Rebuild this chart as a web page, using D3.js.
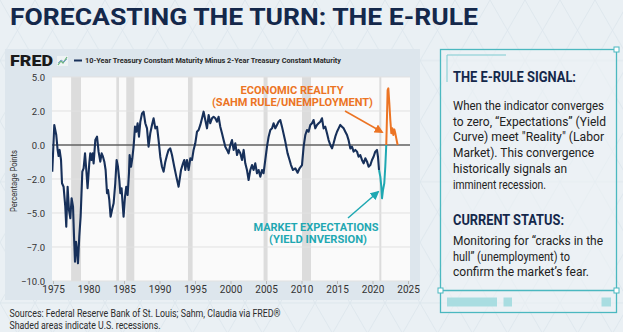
<!DOCTYPE html>
<html>
<head>
<meta charset="utf-8">
<script src="https://cdn.jsdelivr.net/npm/d3@7"></script>
<style>
  body { margin: 0; background: #eaf0f4; }
  svg { display: block; }
</style>
</head>
<body>
<script>
// 10y-2y spread, in axis units (the y axis is labelled unevenly)
var spreadYears = [
  1974.9,1975.18,1975.46,1975.65,1975.79,1975.93,1976.13,1976.27,1976.49,1976.73,
  1976.87,1977.06,1977.25,1977.44,1977.62,1977.82,1977.96,1978.10,1978.24,1978.38,
  1978.52,1978.70,1978.89,1979.13,1979.31,1979.51,1979.69,1979.87,1980.11,1980.25,
  1980.44,1980.58,1980.72,1980.96,1981.20,1981.42,1981.66,1981.85,1982.04,1982.23,
  1982.41,1982.61,1982.75,1982.93,1983.11,1983.35,1983.54,1983.77,1983.96,1984.15,
  1984.34,1984.48,1984.66,1984.80,1984.94,1985.14,1985.32,1985.51,1985.70,1985.79,
  1985.99,1986.17,1986.35,1986.55,1986.73,1986.92,1987.11,1987.30,1987.54,1987.76,
  1988.00,1988.24,1988.46,1988.70,1988.94,1989.17,1989.41,1989.65,1989.87,1990.11,
  1990.35,1990.58,1990.82,1991.06,1991.28,1991.52,1991.76,1992.08,1992.37,1992.69,
  1993.03,1993.31,1993.49,1993.63,1993.87,1994.10,1994.34,1994.58,1994.80,1995.04,
  1995.28,1995.51,1995.75,1995.99,1996.21,1996.45,1996.69,1996.92,1997.15,1997.39,
  1997.62,1997.86,1998.10,1998.32,1998.56,1998.80,1999.03,1999.27,1999.51,1999.73,
  1999.97,2000.21,2000.44,2000.68,2000.92,2001.14,2001.38,2001.62,2001.85,2002.08,
  2002.32,2002.55,2002.79,2003.03,2003.25,2003.49,2003.73,2003.96,2004.20,2004.44,
  2004.66,2004.90,2005.14,2005.37,2005.61,2005.85,2006.07,2006.31,2006.55,2006.77,
  2007.01,2007.25,2007.72,2008.04,2008.32,2008.52,2008.80,2009.13,2009.45,2009.73,
  2010.07,2010.30,2010.54,2010.77,2011.00,2011.24,2011.48,2011.70,2011.94,2012.18,
  2012.41,2012.65,2012.89,2013.11,2013.35,2013.59,2013.82,2014.06,2014.30,2014.52,
  2014.76,2015.00,2015.23,2015.46,2015.70,2015.93,2016.17,2016.41,2016.63,2016.87,
  2017.11,2017.34,2017.58,2017.82,2018.04,2018.28,2018.52,2018.75,2018.99,2019.23,
  2019.45,2019.69,2019.93,2020.15,2020.39,2020.63,2020.77,2020.92
];
var spreadValues = [
  -1.57,1.18,0.59,-0.29,-0.65,-0.29,-0.88,-2.38,-2.68,-4.44,
  -5.81,-2.68,-4.74,-5.31,-3.70,-4.44,-6.39,-8.30,-6.69,-7.26,
  -8.44,-6.39,-5.22,-1.57,-1.37,-0.49,-1.47,-2.82,-1.08,-0.49,
  -0.88,-0.49,-1.08,0.29,0.49,-0.39,-0.98,-0.49,-0.69,-0.98,
  -1.47,-3.26,-2.97,-3.85,-5.22,-4.62,-4.14,-2.38,-0.88,-1.28,
  -2.09,-3.26,-2.82,-4.14,-5.22,-3.56,-2.68,-3.41,-1.66,-0.59,
  -1.28,-0.78,-0.10,1.08,0.78,1.28,0.49,1.37,1.86,1.96,
  1.28,0.98,-0.10,0.69,1.18,1.57,0.98,1.08,0.29,-0.69,
  -1.28,-1.57,-0.98,-0.59,-0.29,-0.20,-0.59,-1.28,-1.86,-2.68,
  -1.47,-1.08,-0.88,-1.47,-0.88,-1.47,-0.78,-0.88,-0.29,0.10,
  0.78,0.88,1.18,1.57,1.96,1.47,0.98,1.76,1.28,1.57,
  1.66,1.57,1.37,1.66,1.08,0.69,0.29,-0.10,-0.29,-0.49,
  0.00,0.29,-0.29,0.10,-0.59,-0.29,-0.49,-0.88,-0.29,-1.08,
  -1.47,-2.09,-1.47,-1.18,-1.47,-1.08,-1.66,-1.47,-1.86,-1.47,
  -1.66,-0.88,-0.10,0.49,0.88,0.98,1.28,0.98,1.18,1.37,
  1.47,1.08,0.20,-0.49,-0.88,-1.18,-1.47,-1.37,-1.63,-1.37,
  -1.18,-0.10,0.59,0.88,0.78,1.18,1.28,1.47,0.98,1.18,
  1.28,1.37,1.57,0.98,1.08,0.69,0.29,0.00,-0.20,0.10,
  0.49,0.78,0.98,1.18,1.08,0.98,0.78,0.59,0.29,-0.20,
  -0.10,-0.39,-0.29,-0.39,-0.69,-0.59,-0.88,-1.08,-0.78,-0.98,
  -1.28,-1.18,-0.88,-0.69,-0.39,-0.29,-0.69,-1.47
];

// the inversion leg (teal) and the sahm-rule leg (orange)
var inversionYears  = [2020.92,2021.10,2021.24,2021.34,2021.48,2021.66,2021.80,2021.94];
var inversionValues = [-1.47,-1.86,-2.68,-3.70,-2.97,-2.38,-1.28,0.00];
var sahmYears  = [2021.94,2022.04,2022.13,2022.23,2022.37,2022.51,2022.65,2022.79,2022.93,2023.07,2023.21,2023.35,2023.54];
var sahmValues = [0.00,1.66,3.85,4.00,2.68,1.47,0.69,0.98,0.59,0.92,0.69,0.39,0.00];

var recessionStarts = [1977.55,1983.92,1985.32,1994.01,2004.66,2010.07,2020.96];
var recessionEnds   = [1978.94,1984.30,1986.45,1994.66,2005.22,2011.34,2021.24];

var yTicks = [-10, -7, -5, -2, 0, 2, 5];
var xTicks = [1975,1980,1985,1990,1995,2000,2005,2010,2015,2020,2025];

var signalLines = [
  "When the indicator converges",
  "to zero, \u201cExpectations\u201d (Yield",
  "Curve) meet \"Reality\" (Labor",
  "Market). This convergence",
  "historically signals an",
  "imminent recession."
];
var statusLines = [
  "Monitoring for \u201ccracks in the",
  "hull\u201d (unemployment) to",
  "confirm the market\u2019s fear."
];

var width = 623,
  height = 332;

var navy = "#17305a",
  teal = "#1fa8b2",
  orange = "#ec7424",
  ink = "#14284b";

var svg = d3.select("body").append("svg")
  .attr("width", width)
  .attr("height", height);

var defs = svg.append("defs");

// faint triangle lattice for the page background
var pat = defs.append("pattern")
  .attr("id", "lattice")
  .attr("patternUnits", "userSpaceOnUse")
  .attr("width", 70)
  .attr("height", 121.2);
pat.append("path")
  .attr("d", "M0,0L70,121.2M70,0L0,121.2M0,60.6H70M35,0L0,60.6L35,121.2L70,60.6Z")
  .attr("fill", "none")
  .attr("stroke", "#dbe5eb")
  .attr("stroke-width", 0.8);

svg.append("rect")
  .attr("width", width).attr("height", height)
  .attr("fill", "#eaf0f4");
svg.append("rect")
  .attr("width", width).attr("height", height)
  .attr("fill", "url(#lattice)");

function arrowHead(id, color) {
  defs.append("marker")
    .attr("id", id)
    .attr("viewBox", "0 0 10 10")
    .attr("refX", 8).attr("refY", 5)
    .attr("markerUnits", "userSpaceOnUse")
    .attr("markerWidth", 9).attr("markerHeight", 9)
    .attr("orient", "auto")
    .append("path")
    .attr("d", "M0,0L10,5L0,10Z")
    .attr("fill", color);
}
arrowHead("headOrange", orange);
arrowHead("headTeal", teal);

// text squeezed to a known width, stands in for a condensed face
function fitText(parent, x, y, str, size, weight, fill, len, anchor) {
  return parent.append("text")
    .attr("x", x)
    .attr("y", y)
    .attr("font-family", "Roboto, 'Liberation Sans', sans-serif")
    .attr("font-size", size)
    .attr("font-weight", weight)
    .attr("fill", fill)
    .attr("text-anchor", anchor || "start")
    .attr("textLength", len)
    .attr("lengthAdjust", "spacingAndGlyphs")
    .text(str);
}

// title
fitText(svg, 10, 25, "FORECASTING THE TURN: THE E-RULE", 24, 700, ink, 468);

// FRED chart panel
var panel = svg.append("g");
panel.append("rect")
  .attr("x", 5).attr("y", 49)
  .attr("width", 415).attr("height", 251)
  .attr("fill", "#dde6ed");

fitText(panel, 10, 66, "FRED", 15.5, 900, "#1a1a1a", 43);
panel.append("rect")
  .attr("x", 57).attr("y", 56)
  .attr("width", 11).attr("height", 10)
  .attr("fill", "#eef3f4");
panel.append("path")
  .attr("d", "M58,65L61,61L63,63L67,57")
  .attr("fill", "none")
  .attr("stroke", "#6ab47c")
  .attr("stroke-width", 1.2);
panel.append("path")
  .attr("d", "M58,63L61,60L64,62L67,59")
  .attr("fill", "none")
  .attr("stroke", "#6a93c8")
  .attr("stroke-width", 0.8);
panel.append("line")
  .attr("x1", 74).attr("x2", 82)
  .attr("y1", 60.5).attr("y2", 60.5)
  .attr("stroke", navy)
  .attr("stroke-width", 2);
fitText(panel, 85, 63, "10-Year Treasury Constant Maturity Minus 2-Year Treasury Constant Maturity",
  8, 700, "#2a2a2a", 256);

var plot = { left: 52, right: 410, top: 77, bottom: 281 };

var x = d3.scaleLinear()
  .domain([1975, 2025])
  .range([53, 408]);

// evenly spaced ticks, piecewise between the labels
var y = d3.scaleLinear()
  .domain(yTicks)
  .range(yTicks.map(function(d, i) {
    return plot.bottom - i * (plot.bottom - plot.top) / (yTicks.length - 1);
  }));

defs.append("clipPath").attr("id", "plotClip")
  .append("rect")
  .attr("x", plot.left).attr("y", plot.top - 20)
  .attr("width", plot.right - plot.left).attr("height", plot.bottom - plot.top + 20);

panel.append("rect")
  .attr("x", plot.left).attr("y", plot.top)
  .attr("width", plot.right - plot.left)
  .attr("height", plot.bottom - plot.top)
  .attr("fill", "#fafafa");

// recession shading
panel.append("g")
  .selectAll("rect")
  .data(recessionStarts)
  .enter()
    .append("rect")
    .attr("x", function(d) { return x(d); })
    .attr("width", function(d, i) { return x(recessionEnds[i]) - x(d); })
    .attr("y", plot.top)
    .attr("height", plot.bottom - plot.top)
    .attr("fill", "#dcdcdc");

// gridlines
panel.append("g")
  .selectAll("line")
  .data(yTicks)
  .enter()
    .append("line")
    .attr("x1", plot.left).attr("x2", plot.right)
    .attr("y1", function(d) { return y(d); })
    .attr("y2", function(d) { return y(d); })
    .attr("stroke", "#e1e1e1")
    .attr("stroke-width", 1);

panel.append("line")
  .attr("x1", plot.left).attr("x2", plot.right)
  .attr("y1", y(0)).attr("y2", y(0))
  .attr("stroke", "#222")
  .attr("stroke-width", 1.1);

// axes
var yAxis = panel.append("g")
  .attr("transform", "translate(" + plot.left + ",0)")
  .call(d3.axisLeft(y).tickValues(yTicks).tickSize(0).tickPadding(7)
    .tickFormat(d3.format(".1f")));
yAxis.select(".domain").remove();
yAxis.selectAll("text")
  .attr("font-family", "Roboto, sans-serif")
  .attr("font-size", 9.5)
  .attr("fill", "#333");

var xAxis = panel.append("g")
  .attr("transform", "translate(0," + plot.bottom + ")")
  .call(d3.axisBottom(x).tickValues(xTicks).tickSize(3).tickPadding(2)
    .tickFormat(d3.format("d")));
xAxis.select(".domain").remove();
xAxis.selectAll("line").attr("stroke", "#bbb");
xAxis.selectAll("text")
  .attr("font-family", "Roboto, sans-serif")
  .attr("font-size", 10)
  .attr("fill", "#333");

fitText(panel, 0, 0, "Percentage Points", 9.5, 400, "#333", 62, "middle")
  .attr("transform", "translate(17,181) rotate(-90)");

// series
function toPoints(years, values) {
  return years.map(function(d, i) { return [d, values[i]]; });
}
var line = d3.line()
  .x(function(d) { return x(d[0]); })
  .y(function(d) { return y(d[1]); });

var series = panel.append("g").attr("clip-path", "url(#plotClip)");
series.append("path")
  .attr("d", line(toPoints(spreadYears, spreadValues)))
  .attr("fill", "none")
  .attr("stroke", navy)
  .attr("stroke-width", 2.1)
  .attr("stroke-linejoin", "round");
series.append("path")
  .attr("d", line(toPoints(inversionYears, inversionValues)))
  .attr("fill", "none")
  .attr("stroke", teal)
  .attr("stroke-width", 2)
  .attr("stroke-linejoin", "round");
series.append("path")
  .attr("d", line(toPoints(sahmYears, sahmValues)))
  .attr("fill", "none")
  .attr("stroke", orange)
  .attr("stroke-width", 2)
  .attr("stroke-linejoin", "round");

// annotations
fitText(panel, 292, 94, "ECONOMIC REALITY", 10.5, 700, orange, 103, "middle");
fitText(panel, 292.5, 106, "(SAHM RULE/UNEMPLOYMENT)", 10.5, 700, orange, 161, "middle");
panel.append("line")
  .attr("x1", 345).attr("y1", 111)
  .attr("x2", 382).attr("y2", 132)
  .attr("stroke", orange)
  .attr("stroke-width", 1.5)
  .attr("marker-end", "url(#headOrange)");

fitText(panel, 316, 231, "MARKET EXPECTATIONS", 10.5, 700, teal, 125, "middle");
fitText(panel, 318, 243, "(YIELD INVERSION)", 10.5, 700, teal, 98, "middle");
panel.append("line")
  .attr("x1", 348).attr("y1", 218)
  .attr("x2", 378).attr("y2", 192)
  .attr("stroke", teal)
  .attr("stroke-width", 1.5)
  .attr("marker-end", "url(#headTeal)");

// sources
fitText(svg, 9.5, 317, "Sources: Federal Reserve Bank of St. Louis; Sahm, Claudia via FRED\u00ae", 10, 400, "#2b2b2b", 271);
fitText(svg, 9.5, 329, "Shaded areas indicate U.S. recessions.", 10, 400, "#2b2b2b", 151);

// side box
var box = svg.append("g");
box.append("rect")
  .attr("x", 440.5).attr("y", 49.5)
  .attr("width", 176).attr("height", 263)
  .attr("fill", "#edf2f5")
  .attr("fill-opacity", 0.6)
  .attr("stroke", "#4bb8c0")
  .attr("stroke-width", 1.3);
box.append("line")
  .attr("x1", 440.5).attr("x2", 616.5)
  .attr("y1", 290.5).attr("y2", 290.5)
  .attr("stroke", "#4bb8c0")
  .attr("stroke-width", 1.3);
box.append("path")
  .attr("d", "M447,82V55H506")
  .attr("fill", "none")
  .attr("stroke", "#7ccbd1")
  .attr("stroke-width", 1);
[[616.5, 49.5], [440.5, 290.5], [616.5, 290.5]].forEach(function(p) {
  box.append("rect")
    .attr("x", p[0] - 2.5).attr("y", p[1] - 2.5)
    .attr("width", 5).attr("height", 5)
    .attr("fill", "#fff")
    .attr("stroke", "#4bb8c0")
    .attr("stroke-width", 1);
});
[[447, 50], [503.5, 8.5], [601.5, 9.5]].forEach(function(r) {
  box.append("rect")
    .attr("x", r[0]).attr("y", 297.5)
    .attr("width", r[1]).attr("height", 9)
    .attr("fill", "#a9dde1");
});

fitText(box, 453, 82, "THE E-RULE SIGNAL:", 15.5, 700, ink, 123);
var signalWidths = [151, 153, 151, 141, 114, 93];
signalLines.forEach(function(s, i) {
  fitText(box, 453, 110 + i * 15.7, s, 12.5, 400, "#222", signalWidths[i]);
});

fitText(box, 453, 224.5, "CURRENT STATUS:", 15.5, 700, ink, 111);
var statusWidths = [150, 117, 136];
statusLines.forEach(function(s, i) {
  fitText(box, 453, 245 + i * 15.5, s, 12.5, 400, "#222", statusWidths[i]);
});
</script>
</body>
</html>
